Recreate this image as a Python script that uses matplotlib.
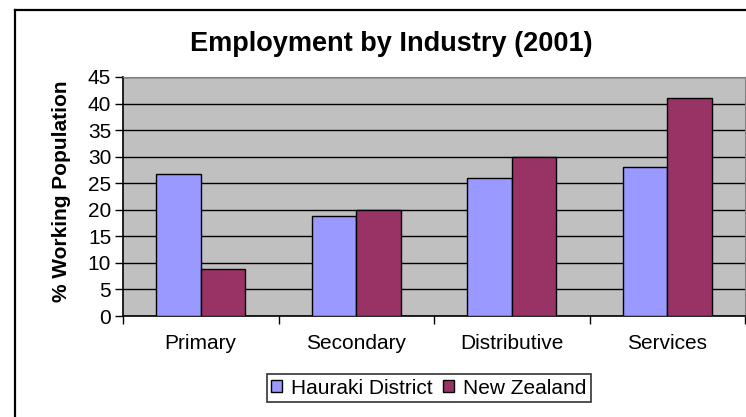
import numpy as np
import matplotlib
matplotlib.use("Agg")
import matplotlib.pyplot as plt
from matplotlib.lines import Line2D

plt.rcParams['font.family'] = ['Liberation Sans', 'DejaVu Sans']

categories = ['Primary', 'Secondary', 'Distributive', 'Services']
hauraki = [26.8, 18.9, 26.0, 28.0]
new_zealand = [8.8, 20.0, 30.0, 41.0]
series_names = ['Hauraki District', 'New Zealand']
yticks = [0, 5, 10, 15, 20, 25, 30, 35, 40, 45]

W, H = 746, 417
fig = plt.figure(figsize=(W / 100, H / 100), dpi=100)

# outer chart frame (cropped on right and bottom)
fx = 14.5 / W
fy = 1 - 9.5 / H
fig.add_artist(Line2D([fx, fx], [0, fy], transform=fig.transFigure, color='black', lw=1.6))
fig.add_artist(Line2D([fx, 1], [fy, fy], transform=fig.transFigure, color='black', lw=1.6))

left, right, top, bottom = 123, 745, 77, 316
ax = fig.add_axes([left / W, 1 - bottom / H, (right - left) / W, (bottom - top) / H])
ax.set_facecolor('#C0C0C0')

x = np.arange(len(categories))
w = 1 / 3.5
ax.bar(x - w / 2, hauraki, w, color='#9999FF', edgecolor='black', lw=1, label=series_names[0], zorder=3)
ax.bar(x + w / 2, new_zealand, w, color='#993366', edgecolor='black', lw=1, label=series_names[1], zorder=3)

ax.set_xlim(-0.5, len(categories) - 0.5)
ax.set_ylim(0, 45)
ax.set_yticks(yticks)
ax.tick_params(axis='y', direction='out', length=5.5, width=1, labelsize=15, pad=3)
ax.yaxis.grid(True, color='black', lw=1, zorder=1)
ax.set_axisbelow(True)

# ticks between categories, labels at centres
ax.set_xticks(np.arange(len(categories) + 1) - 0.5)
ax.set_xticklabels([])
ax.set_xticks(x, minor=True)
ax.set_xticklabels(categories, minor=True)
ax.tick_params(axis='x', which='major', direction='out', length=5.5, width=1)
ax.tick_params(axis='x', which='minor', length=0, labelsize=15, pad=13)

for s in ['top', 'right']:
    ax.spines[s].set_color('#808080')
for s in ['left', 'bottom']:
    ax.spines[s].set_color('black')
    ax.spines[s].set_linewidth(1.2)

ax.set_ylabel('% Working Population', fontsize=15, fontweight='bold')
ax.yaxis.set_label_coords((71 - left) / (right - left), (bottom - 191.5) / (bottom - top))

fig.text(391 / W, 1 - 51 / H, 'Employment by Industry (2001)', ha='center', va='baseline',
         fontsize=19.5, fontweight='bold')

leg = fig.legend(loc='center', bbox_to_anchor=(429 / W, 1 - 388 / H), ncol=2,
                 fontsize=15, frameon=True, fancybox=False, edgecolor='black',
                 handlelength=0.53, handleheight=0.53, handletextpad=0.43,
                 columnspacing=0.5, borderpad=0.2, borderaxespad=0)
leg.get_frame().set_linewidth(1.2)

fig.savefig('out.png', dpi=100)
